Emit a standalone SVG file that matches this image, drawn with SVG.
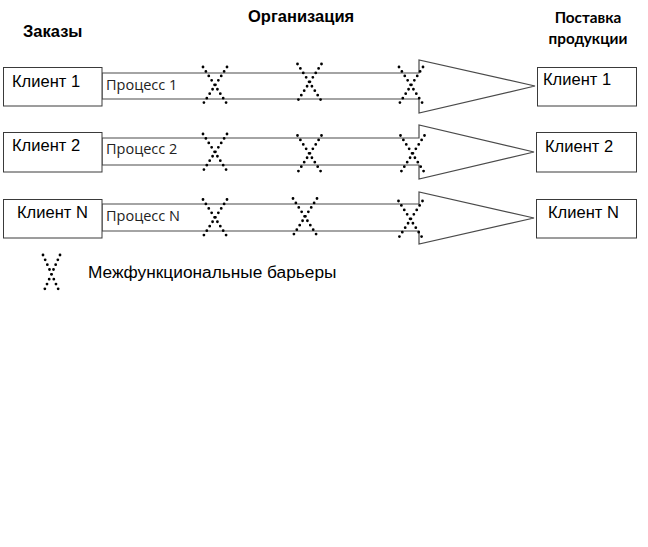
<svg xmlns="http://www.w3.org/2000/svg" xmlns:xlink="http://www.w3.org/1999/xlink" width="648" height="547" viewBox="0 0 648 547">
<style>
.box{fill:#fff;stroke:#3a3a3a;stroke-width:1}
.arrow{fill:#fff;stroke:#4a4a4a;stroke-width:1.2}
.dots{fill:none;stroke:#000;stroke-width:2.8;stroke-linecap:round;stroke-dasharray:0 5.3}
.client{font-family:"Liberation Sans",Arial,sans-serif;font-size:16.5px;fill:#000}
.proc{font-family:"Open Sans","Noto Sans",sans-serif;font-size:14.5px;fill:#222}
.title{font-family:"Liberation Sans",Arial,sans-serif;font-size:16.5px;font-weight:bold;fill:#000}
.title2{font-family:Lato,"Open Sans",sans-serif;font-size:15.3px;font-weight:bold;fill:#000}
.legend{font-family:"Liberation Sans",Arial,sans-serif;font-size:17.3px;fill:#000}
</style>
<defs>
<path id="x" class="dots" d="M-12,-18.5 L12,18.5 M12,-18.5 L-12,18.5"/>
</defs>
<rect width="648" height="547" fill="#fff"/>
<g id="titles">
<text class="title" x="23" y="37">Заказы</text>
<text class="title" x="248" y="22">Организация</text>
<text class="title2" x="588" y="23" text-anchor="middle">Поставка</text>
<text class="title2" x="588" y="44" text-anchor="middle">продукции</text>
</g>
<g id="connectors">
<polygon class="arrow" points="102,73 419,73 419,60 535,86 419,113 419,99 102,99"/>
<polygon class="arrow" points="102,138 419,138 419,125 534,152 419,179 419,165 102,165"/>
<polygon class="arrow" points="102,204 419,204 419,192 534,218 419,244 419,231 102,231"/>
</g>
<g id="client-left-1"><rect class="box" x="3.5" y="67.5" width="98.5" height="38.5"/><text class="client" x="12" y="87">Клиент 1</text></g>
<g id="client-left-2"><rect class="box" x="3.5" y="132.5" width="98.5" height="39.5"/><text class="client" x="12" y="151">Клиент 2</text></g>
<g id="client-left-N"><rect class="box" x="3.5" y="199.5" width="98.5" height="38.5"/><text class="client" x="17" y="218">Клиент N</text></g>
<g id="process-labels">
<text class="proc" x="106" y="90">Процесс 1</text>
<text class="proc" x="106" y="154">Процесс 2</text>
<text class="proc" x="106" y="221">Процесс N</text>
</g>
<g id="client-right-1"><rect class="box" x="537.5" y="67.5" width="99" height="38.5"/><text class="client" x="543" y="85">Клиент 1</text></g>
<g id="client-right-2"><rect class="box" x="536.5" y="132.5" width="100" height="39.5"/><text class="client" x="545" y="152">Клиент 2</text></g>
<g id="client-right-N"><rect class="box" x="536.5" y="199.5" width="100" height="38.5"/><text class="client" x="548" y="218">Клиент N</text></g>
<g id="barriers">
<use xlink:href="#x" x="215" y="85.5"/>
<use xlink:href="#x" x="309.5" y="82.5"/>
<use xlink:href="#x" x="411" y="85.5"/>
<use xlink:href="#x" x="215" y="152.5"/>
<use xlink:href="#x" x="309.5" y="154"/>
<use xlink:href="#x" x="412.5" y="154"/>
<use xlink:href="#x" x="215" y="218"/>
<use xlink:href="#x" x="305" y="217"/>
<use xlink:href="#x" x="410.5" y="219.5"/>
</g>
<g id="legend">
<path class="dots" d="M43,255 L60,293 M60,255 L43,293"/>
<text class="legend" x="88" y="278">Межфункциональные барьеры</text>
</g>
</svg>
